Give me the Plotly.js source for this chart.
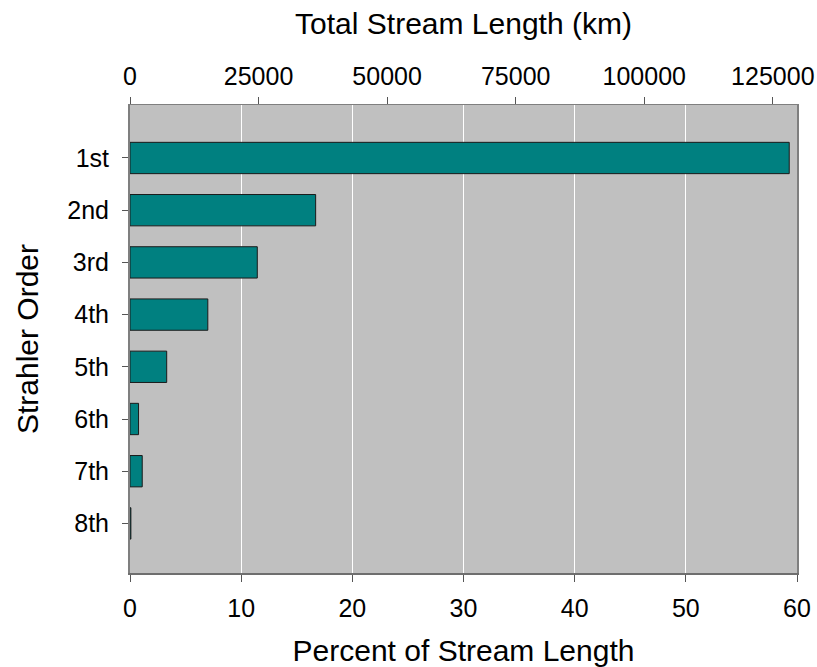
<!DOCTYPE html>
<html>
<head>
<meta charset="utf-8">
<script src="https://cdn.plot.ly/plotly-3.0.1.min.js"></script>
<style>html,body{margin:0;padding:0;background:#fff;}#chart{width:817px;height:667px;}</style>
</head>
<body>
<div id="chart"></div>
<script>
// Data
const orders = ["1st", "2nd", "3rd", "4th", "5th", "6th", "7th", "8th"];
const percentLength = [59.3, 16.7, 11.45, 7.0, 3.3, 0.77, 1.1, 0.08];
const percentTicks = [0, 10, 20, 30, 40, 50, 60];
const kmTicks = [0, 25000, 50000, 75000, 100000, 125000];
const kmAxisMax = 129700;

const FONT = "Liberation Sans, Arial, sans-serif";

const traces = [
  {
    type: "bar",
    orientation: "h",
    y: orders,
    x: percentLength,
    width: 0.6,
    marker: { color: "#008080", line: { color: "#1a1a1a", width: 1 } },
    hoverinfo: "x+y",
    showlegend: false
  },
  {
    type: "scatter",
    mode: "markers",
    x: [],
    y: [],
    xaxis: "x2",
    yaxis: "y",
    showlegend: false,
    hoverinfo: "skip"
  }
];

const layout = {
  width: 817,
  height: 667,
  margin: { l: 130, r: 20, t: 105, b: 94, pad: 0 },
  paper_bgcolor: "#ffffff",
  plot_bgcolor: "#c0c0c0",
  font: { family: FONT, size: 24, color: "#000" },
  showlegend: false,
  xaxis: {
    range: [0, 60],
    tickvals: percentTicks,
    ticktext: percentTicks.map(String),
    showgrid: true,
    gridcolor: "#ffffff",
    gridwidth: 1,
    zeroline: false,
    showline: true,
    linecolor: "#6e6e6e",
    linewidth: 2,
    ticks: "outside",
    ticklen: 7,
    tickcolor: "#555",
    tickfont: { family: FONT, size: 25, color: "#000" },
    ticklabelstandoff: 5,
    title: { text: "Percent of Stream Length", font: { family: FONT, size: 30, color: "#000" }, standoff: 25 },
    fixedrange: true
  },
  xaxis2: {
    overlaying: "x",
    side: "top",
    anchor: "y",
    range: [0, kmAxisMax],
    tickvals: kmTicks,
    ticktext: kmTicks.map(String),
    showgrid: false,
    zeroline: false,
    showline: true,
    linecolor: "#7f7f7f",
    linewidth: 1,
    ticks: "outside",
    ticklen: 7,
    tickcolor: "#555",
    tickfont: { family: FONT, size: 25, color: "#000" },
    ticklabelstandoff: 2,
    title: { text: "Total Stream Length (km)", font: { family: FONT, size: 30, color: "#000" }, standoff: 18 },
    fixedrange: true
  },
  yaxis: {
    type: "category",
    categoryorder: "array",
    categoryarray: orders,
    range: [7.95, -1.015],
    showgrid: false,
    zeroline: false,
    showline: true,
    mirror: true,
    linecolor: "#7f7f7f",
    linewidth: 2,
    ticks: "outside",
    ticklen: 6,
    tickcolor: "#555",
    tickfont: { family: FONT, size: 25, color: "#000" },
    ticklabelstandoff: 8,
    title: { text: "Strahler Order", font: { family: FONT, size: 30, color: "#000" }, standoff: 20 },
    fixedrange: true
  }
};

Plotly.newPlot("chart", traces, layout, { displayModeBar: false, staticPlot: true });
</script>
</body>
</html>
